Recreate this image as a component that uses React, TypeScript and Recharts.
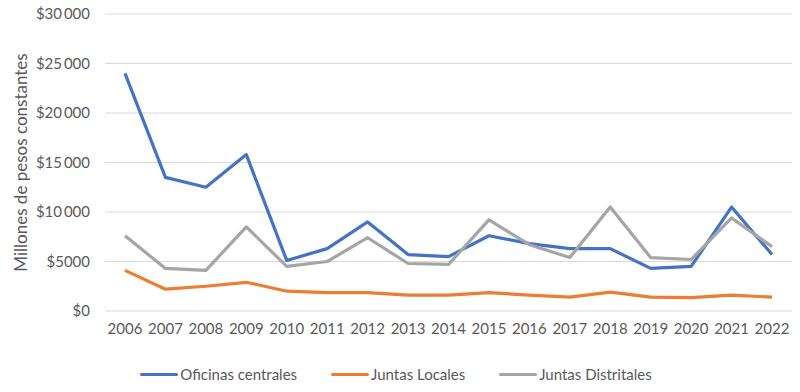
import React from "react";
import {
  LineChart,
  Line,
  XAxis,
  YAxis,
  CartesianGrid,
  Legend,
} from "recharts";

// page has default 8px margin; the reference fills the whole frame
if (typeof document !== "undefined") document.body.style.margin = "0";

const years = [
  "2006", "2007", "2008", "2009", "2010", "2011", "2012", "2013", "2014",
  "2015", "2016", "2017", "2018", "2019", "2020", "2021", "2022",
];

const oficinasCentrales = [
  24000, 13500, 12500, 15800, 5100, 6300, 9000, 5700, 5500, 7600, 6800, 6300,
  6300, 4300, 4500, 10500, 5700,
];

const juntasLocales = [
  4100, 2200, 2500, 2900, 2000, 1850, 1850, 1600, 1600, 1850, 1600, 1400, 1900,
  1400, 1350, 1600, 1400,
];

const juntasDistritales = [
  7600, 4300, 4100, 8500, 4500, 5000, 7400, 4800, 4700, 9200, 6700, 5400,
  10500, 5400, 5200, 9400, 6500,
];

const yTicks = [0, 5000, 10000, 15000, 20000, 25000, 30000];

const series = [
  { key: "oficinas", name: "Oficinas centrales", color: "#4472C4" },
  { key: "locales", name: "Juntas Locales", color: "#ED7D31" },
  { key: "distritales", name: "Juntas Distritales", color: "#A5A5A5" },
];

const data = years.map((year, i) => ({
  year,
  oficinas: oficinasCentrales[i],
  locales: juntasLocales[i],
  distritales: juntasDistritales[i],
}));

const FONT = "Lato, 'Noto Sans', sans-serif";
const TEXT = "#595959";

function formatMoney(v: number) {
  if (v === 0) return "$0";
  if (v < 10000) return "$" + v;
  const s = String(v);
  return "$" + s.slice(0, s.length - 3) + "\u2009" + s.slice(-3);
}

function LegendContent() {
  return (
    <div
      style={{
        height: 28,
        display: "flex",
        justifyContent: "center",
        alignItems: "center",
        fontFamily: FONT,
        fontSize: 15,
        color: TEXT,
      }}
    >
      {series.map((s) => (
        <div
          key={s.key}
          style={{ display: "flex", alignItems: "center", margin: "0 17px" }}
        >
          <span
            style={{
              display: "inline-block",
              width: 38,
              height: 3,
              borderRadius: 2,
              background: s.color,
              marginRight: 2,
            }}
          />
          <span>{s.name}</span>
        </div>
      ))}
    </div>
  );
}

function YLabel(props: any) {
  const { viewBox } = props;
  const cy = viewBox.y + viewBox.height / 2;
  return (
    <text
      x={20}
      y={cy}
      transform={`rotate(-90, 20, ${cy})`}
      textAnchor="middle"
      dominantBaseline="central"
      fill={TEXT}
      fontFamily={FONT}
      fontSize={17}
    >
      Millones de pesos constantes
    </text>
  );
}

export default function App() {
  return (
    <div style={{ width: 800, height: 392, background: "#fff" }}>
      <LineChart
        width={800}
        height={392}
        data={data}
        margin={{ top: 14, right: 8, left: 0, bottom: 4 }}
      >
        <CartesianGrid vertical={false} stroke="#d9d9d9" />
        <XAxis
          dataKey="year"
          axisLine={false}
          tickLine={false}
          tickSize={0}
          tickMargin={12}
          height={49}
          padding={{ left: 20, right: 20 }}
          interval={0}
          tick={{ fill: TEXT, fontFamily: FONT, fontSize: 15 }}
        />
        <YAxis
          width={105}
          domain={[0, 30000]}
          ticks={yTicks}
          axisLine={false}
          tickLine={false}
          tickSize={0}
          tickMargin={15}
          tickFormatter={formatMoney}
          tick={{ fill: TEXT, fontFamily: FONT, fontSize: 15 }}
          label={<YLabel />}
        />
        <Legend verticalAlign="bottom" content={<LegendContent />} />
        {series.map((s) => (
          <Line
            key={s.key}
            type="linear"
            dataKey={s.key}
            name={s.name}
            stroke={s.color}
            strokeWidth={3.2}
            strokeLinejoin="round"
            dot={false}
            activeDot={false}
            isAnimationActive={false}
          />
        ))}
      </LineChart>
    </div>
  );
}
